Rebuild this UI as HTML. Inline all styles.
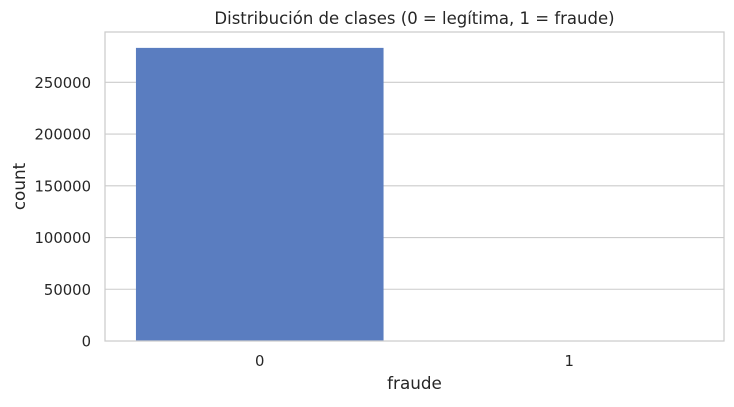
<!DOCTYPE html>
<html><head><meta charset="utf-8"><style>
body{margin:0;background:#fff;}
svg text{font-family:"DejaVu Sans","Liberation Sans",sans-serif;fill:#262626;}
</style></head><body>
<svg id="chart" width="734" height="402" xmlns="http://www.w3.org/2000/svg">
<rect width="734" height="402" fill="#fff"/>
<g id="grid"></g>
<g id="bars"></g>
<rect x="105" y="32" width="619" height="309" fill="none" stroke="#cccccc" stroke-width="1.25"/>
<g id="yticks"></g>
<g id="xticks"></g>
<text x="414.5" y="24" text-anchor="middle" font-size="16.5">Distribución de clases (0 = legítima, 1 = fraude)</text>
<text x="414.5" y="389" text-anchor="middle" font-size="16.8">fraude</text>
<text transform="translate(25,186.5) rotate(-90)" text-anchor="middle" font-size="16.8">count</text>
</svg>
<script>
const categories = ["0", "1"];
const counts = [283253, 473];
const yTicks = [0, 50000, 100000, 150000, 200000, 250000];

const ns = "http://www.w3.org/2000/svg";
const L = 105, R = 724, T = 32, B = 341;
const yMax = 298600;
function y(v){ return B - v / yMax * (B - T); }
const band = (R - L) / categories.length;
function xc(i){ return L + band * (i + 0.5); }

const grid = document.getElementById('grid');
const yt = document.getElementById('yticks');
yTicks.forEach(v => {
  const ln = document.createElementNS(ns, 'line');
  ln.setAttribute('x1', L); ln.setAttribute('x2', R);
  ln.setAttribute('y1', y(v)); ln.setAttribute('y2', y(v));
  ln.setAttribute('stroke', '#cccccc'); ln.setAttribute('stroke-width', '1.1');
  
  
  grid.appendChild(ln);
  const t = document.createElementNS(ns, 'text');
  t.setAttribute('x', L - 14); t.setAttribute('y', y(v) + 5.5);
  t.setAttribute('text-anchor', 'end'); t.setAttribute('font-size', '14.8');
  t.textContent = String(v);
  
  
  yt.appendChild(t);
});

const bars = document.getElementById('bars');
const xt = document.getElementById('xticks');
categories.forEach((c, i) => {
  const w = band * 0.8;
  const r = document.createElementNS(ns, 'rect');
  r.setAttribute('x', xc(i) - w / 2); r.setAttribute('width', w);
  r.setAttribute('y', y(counts[i])); r.setAttribute('height', B - y(counts[i]));
  r.setAttribute('fill', '#5a7dc0');
  
  
  bars.appendChild(r);
  const t = document.createElementNS(ns, 'text');
  t.setAttribute('x', xc(i)); t.setAttribute('y', 366);
  t.setAttribute('text-anchor', 'middle'); t.setAttribute('font-size', '14.8');
  t.textContent = c;
  
  
  xt.appendChild(t);
});
</script>
</body></html>
